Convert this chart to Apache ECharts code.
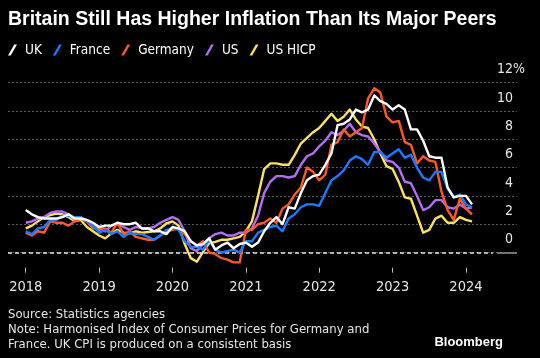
<!DOCTYPE html>
<html>
<head>
<meta charset="utf-8">
<script src="https://cdn.jsdelivr.net/npm/echarts@6/dist/echarts.min.js"></script>
<style>
html,body{margin:0;padding:0;background:#000;}
#c{width:540px;height:358px;}
</style>
</head>
<body>
<div id="c"></div>
<script>
// Monthly year-over-year inflation, Jan 2018 – Feb 2024
const yearTicks = ['2018', '2019', '2020', '2021', '2022', '2023', '2024'];
const yTicks = [0, 2, 4, 6, 8, 10, 12];

const uk = [
  3.0, 2.7, 2.5, 2.4, 2.4, 2.4, 2.5, 2.7, 2.4, 2.4, 2.3, 2.1,
  1.8, 1.9, 1.9, 2.1, 2.0, 2.0, 2.1, 1.7, 1.7, 1.5, 1.5, 1.3,
  1.8, 1.7, 1.5, 0.8, 0.5, 0.6, 1.0, 0.2, 0.5, 0.7, 0.3, 0.6,
  0.7, 0.4, 0.7, 1.5, 2.1, 2.5, 2.0, 3.2, 3.1, 4.2, 5.1, 5.4,
  5.5, 6.2, 7.0, 9.0, 9.1, 9.4, 10.1, 9.9, 10.1, 11.1, 10.7, 10.5,
  10.1, 10.4, 10.1, 8.7, 8.7, 7.9, 6.8, 6.7, 6.7, 4.6, 3.9, 4.0,
  4.0, 3.4
];
const france = [
  1.5, 1.3, 1.7, 1.8, 2.3, 2.3, 2.6, 2.6, 2.5, 2.5, 2.2, 1.9,
  1.4, 1.6, 1.3, 1.5, 1.1, 1.4, 1.3, 1.3, 1.1, 0.9, 1.2, 1.6,
  1.7, 1.6, 0.8, 0.4, 0.4, 0.2, 0.9, 0.2, 0.0, 0.1, 0.2, 0.0,
  0.8, 0.8, 1.4, 1.6, 1.8, 1.9, 1.5, 2.4, 2.7, 3.2, 3.4, 3.4,
  3.3, 4.2, 5.1, 5.4, 5.8, 6.5, 6.8, 6.6, 6.2, 7.1, 7.1, 6.7,
  7.0, 7.3, 6.7, 6.9, 6.0, 5.3, 5.1, 5.7, 5.7, 4.5, 3.9, 4.1,
  3.4, 3.2
];
const germany = [
  1.4, 1.2, 1.5, 1.4, 2.2, 2.1, 2.1, 1.9, 2.2, 2.4, 2.2, 1.7,
  1.7, 1.7, 1.4, 2.1, 1.3, 1.5, 1.1, 1.0, 0.9, 0.9, 1.2, 1.5,
  1.6, 1.7, 1.3, 0.8, 0.5, 0.8, 0.0, -0.1, -0.4, -0.5, -0.7, -0.7,
  1.6, 1.6, 2.0, 2.1, 2.4, 2.1, 3.1, 3.4, 4.1, 4.6, 6.0, 5.7,
  5.1, 5.5, 7.6, 7.8, 8.7, 8.2, 8.5, 8.8, 10.9, 11.6, 11.3, 9.6,
  9.2, 9.3, 7.8, 7.6, 6.3, 6.8, 6.5, 6.4, 4.3, 3.0, 2.3, 3.8,
  3.1, 2.7
];
const us = [
  2.1, 2.2, 2.4, 2.5, 2.8, 2.9, 2.9, 2.7, 2.3, 2.5, 2.2, 1.9,
  1.6, 1.5, 1.9, 2.0, 1.8, 1.6, 1.8, 1.7, 1.7, 1.8, 2.1, 2.3,
  2.5, 2.3, 1.5, 0.3, 0.1, 0.6, 1.0, 1.3, 1.4, 1.2, 1.2, 1.4,
  1.4, 1.7, 2.6, 4.2, 5.0, 5.4, 5.4, 5.3, 5.4, 6.2, 6.8, 7.0,
  7.5, 7.9, 8.5, 8.3, 8.6, 9.1, 8.5, 8.3, 8.2, 7.7, 7.1, 6.5,
  6.4, 6.0, 5.0, 4.9, 4.0, 3.0, 3.2, 3.7, 3.7, 3.2, 3.1, 3.4,
  3.1, 3.2
];
const usHicp = [
  1.7, 1.9, 2.2, 2.5, 2.65, 2.75, 2.7, 2.5, 2.2, 2.3, 1.8, 1.5,
  1.2, 1.0, 1.35, 1.6, 1.4, 1.35, 1.5, 1.4, 1.45, 1.5, 1.7, 2.05,
  2.2, 1.9, 0.6, -0.4, -0.65, 0.05, 0.65, 0.75, 0.9, 0.9, 1.0, 1.1,
  1.5, 2.2, 4.0, 5.9, 6.3, 6.3, 6.2, 6.2, 6.9, 7.7, 8.1, 8.5,
  8.8, 9.3, 9.8, 9.3, 9.6, 10.1, 9.4, 8.9, 8.8, 8.0, 7.0, 6.1,
  5.9, 5.0, 3.9, 3.8, 2.6, 1.4, 1.6, 2.4, 2.6, 2.1, 2.1, 2.5,
  2.3, 2.2
];

const seriesNames = ['UK', 'France', 'Germany', 'US', 'US HICP'];
const seriesData = [uk, france, germany, us, usHicp];
const seriesColors = ['#ffffff', '#1a7bff', '#ff5a24', '#b46ef2', '#fbe25a'];

const NARROW = '"Liberation Sans Narrow", "DejaVu Sans Condensed", "Arial Narrow", sans-serif';
const BOLD = '"Liberation Sans", Arial, sans-serif';

const X_MIN = -2.9, X_MAX = 80.35;
const toPairs = arr => arr.map((v, i) => [i, v]);
const yearIdx = yearTicks.map((_, k) => k * 12);

const chart = echarts.init(document.getElementById('c'), null, {renderer: 'canvas'});

const series = [];
for (let k = seriesNames.length - 1; k >= 0; k--) {
  const s = {
    name: seriesNames[k],
    type: 'line',
    data: toPairs(seriesData[k]),
    color: seriesColors[k],
    showSymbol: false,
    symbol: 'none',
    lineStyle: {width: 2.4, color: seriesColors[k], join: 'round'},
    z: 3 + (seriesNames.length - k),
    animation: false
  };
  if (k === seriesNames.length - 1) {
    s.markLine = {
      silent: true,
      symbol: 'none',
      z: 1,
      label: {show: false},
      animation: false,
      data: [
        [{coord: [X_MIN, 0], lineStyle: {color: '#e6e6e6', type: [4, 3], width: 1.6}},
         {coord: [76.4, 0]}],
        [{coord: [77.1, 0], lineStyle: {color: '#8a8a8a', type: 'solid', width: 1.6}},
         {coord: [X_MAX, 0]}]
      ]
    };
  }
  series.push(s);
}

const labelFont = {fontSize: 14, fontFamily: NARROW, lineHeight: 14};

chart.setOption({
  backgroundColor: '#000',
  animation: false,
  title: {
    text: 'Britain Still Has Higher Inflation Than Its Major Peers',
    left: 8, top: 10, padding: 0,
    textStyle: {color: '#fff', fontSize: 19.5, fontWeight: 'bold', fontFamily: BOLD}
  },
  legend: {
    data: seriesNames,
    left: 8, top: 43, padding: 0,
    itemWidth: 9, itemHeight: 12, itemGap: 11,
    icon: 'path://M0,12 L7,0 L10,0 L3,12 Z',
    textStyle: {color: '#fff', fontSize: 13.5, fontFamily: NARROW, padding: [0, 0, 0, 3]},
    selectedMode: false
  },
  grid: {left: 8, right: 23, top: 82.7, height: 198.1, containLabel: false},
  xAxis: {
    type: 'value', min: X_MIN, max: X_MAX,
    offset: -13.1,
    axisLine: {show: false, onZero: false},
    axisTick: {show: true, customValues: yearIdx, length: 5, lineStyle: {color: '#bbb', width: 1}},
    axisLabel: {
      show: true, customValues: yearIdx, margin: 12,
      color: '#e6e6e6', fontSize: 14.5, fontFamily: NARROW,
      formatter: v => yearTicks[Math.round(v / 12)] || ''
    },
    splitLine: {show: false}
  },
  yAxis: {
    type: 'value', position: 'right', min: -2, max: 12, interval: 2,
    axisLine: {show: false}, axisTick: {show: false},
    splitLine: {show: true, showMinLine: false, showMaxLine: true,
      lineStyle: {color: '#5c5c5c', type: [2, 2], width: 1}},
    axisLabel: {
      inside: true, margin: -8,
      color: '#e6e6e6', fontSize: 14, fontFamily: NARROW,
      verticalAlign: 'bottom', lineHeight: 14, padding: [0, 0, 6, 0],
      formatter: v => (yTicks.indexOf(v) < 0 ? '' : (v === 12 ? '{n|12}{p|%}' : '{n|' + v + '}{h|%}')),
      rich: {
        n: Object.assign({color: '#e6e6e6'}, labelFont),
        p: Object.assign({color: '#e6e6e6'}, labelFont),
        h: Object.assign({color: 'rgba(0,0,0,0)'}, labelFont)
      }
    }
  },
  series: series,
  graphic: [
    {type: 'text', left: 8, top: 308, style: {text: 'Source: Statistics agencies', fill: '#e6e6e6', font: '13px ' + NARROW}},
    {type: 'text', left: 8, top: 323, style: {text: 'Note: Harmonised Index of Consumer Prices for Germany and', fill: '#e6e6e6', font: '13px ' + NARROW}},
    {type: 'text', left: 8, top: 338, style: {text: 'France. UK CPI is produced on a consistent basis', fill: '#e6e6e6', font: '13px ' + NARROW}},
    {type: 'text', right: 37, top: 336, style: {text: 'Bloomberg', fill: '#fff', font: 'bold 13px ' + BOLD}}
  ]
});
</script>
</body>
</html>
